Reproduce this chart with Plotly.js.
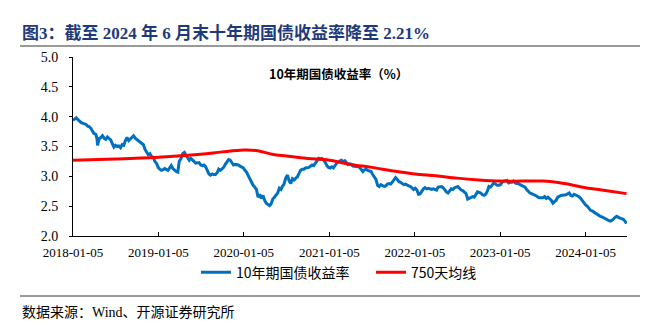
<!DOCTYPE html>
<html>
<head>
<meta charset="utf-8">
<script src="https://cdn.plot.ly/plotly-3.0.1.min.js"></script>
<style>html,body{margin:0;padding:0;background:#fff;}#chart{width:646px;height:331px;}</style>
</head>
<body>
<div id="chart"></div>
<script>
// ---- data ----
const yieldDates = [
"2018-01-05","2018-01-12","2018-01-19","2018-01-26","2018-02-02","2018-02-09","2018-02-23","2018-03-02","2018-03-09","2018-03-16","2018-03-23","2018-03-30",
"2018-04-04","2018-04-13","2018-04-18","2018-04-20","2018-04-27","2018-05-04","2018-05-11","2018-05-18","2018-05-25","2018-06-01","2018-06-08","2018-06-15","2018-06-22","2018-06-29",
"2018-07-06","2018-07-13","2018-07-20","2018-07-27","2018-08-03","2018-08-10","2018-08-17","2018-08-24","2018-08-31","2018-09-07","2018-09-14","2018-09-21","2018-09-28",
"2018-10-12","2018-10-19","2018-10-26","2018-11-02","2018-11-09","2018-11-16","2018-11-23","2018-11-30","2018-12-07","2018-12-14","2018-12-21","2018-12-28",
"2019-01-04","2019-01-11","2019-01-18","2019-01-25","2019-02-01","2019-02-15","2019-02-22","2019-03-01","2019-03-08","2019-03-15","2019-03-22","2019-03-29",
"2019-04-04","2019-04-12","2019-04-19","2019-04-26","2019-05-03","2019-05-10","2019-05-17","2019-05-24","2019-05-31","2019-06-06","2019-06-14","2019-06-21","2019-06-28",
"2019-07-05","2019-07-12","2019-07-19","2019-07-26","2019-08-02","2019-08-09","2019-08-16","2019-08-23","2019-08-30","2019-09-06","2019-09-13","2019-09-20","2019-09-27",
"2019-10-11","2019-10-18","2019-10-25","2019-11-01","2019-11-08","2019-11-15","2019-11-22","2019-11-29","2019-12-06","2019-12-13","2019-12-20","2019-12-27",
"2020-01-03","2020-01-10","2020-01-17","2020-01-23","2020-02-07","2020-02-14","2020-02-21","2020-02-28","2020-03-06","2020-03-13","2020-03-20","2020-03-27",
"2020-04-03","2020-04-10","2020-04-17","2020-04-24","2020-04-30","2020-05-08","2020-05-15","2020-05-22","2020-05-29","2020-06-05","2020-06-12","2020-06-19","2020-06-24",
"2020-07-03","2020-07-10","2020-07-17","2020-07-24","2020-07-31","2020-08-07","2020-08-14","2020-08-21","2020-08-28","2020-09-04","2020-09-11","2020-09-18","2020-09-25",
"2020-10-09","2020-10-16","2020-10-23","2020-10-30","2020-11-06","2020-11-13","2020-11-20","2020-11-27","2020-12-04","2020-12-11","2020-12-18","2020-12-25",
"2021-01-01","2021-01-08","2021-01-15","2021-01-22","2021-01-29","2021-02-05","2021-02-19","2021-02-26","2021-03-05","2021-03-12","2021-03-19","2021-03-26",
"2021-04-02","2021-04-09","2021-04-16","2021-04-23","2021-04-30","2021-05-07","2021-05-14","2021-05-21","2021-05-28","2021-06-04","2021-06-11","2021-06-18","2021-06-25",
"2021-07-02","2021-07-09","2021-07-16","2021-07-23","2021-07-30","2021-08-06","2021-08-13","2021-08-20","2021-08-27","2021-09-03","2021-09-10","2021-09-17","2021-09-24",
"2021-10-08","2021-10-15","2021-10-22","2021-10-29","2021-11-05","2021-11-12","2021-11-19","2021-11-26","2021-12-03","2021-12-10","2021-12-17","2021-12-24","2021-12-31",
"2022-01-07","2022-01-14","2022-01-21","2022-01-28","2022-02-11","2022-02-18","2022-02-25","2022-03-04","2022-03-11","2022-03-18","2022-03-25",
"2022-04-01","2022-04-08","2022-04-15","2022-04-22","2022-04-29","2022-05-06","2022-05-13","2022-05-20","2022-05-27","2022-06-02","2022-06-10","2022-06-17","2022-06-24",
"2022-07-01","2022-07-08","2022-07-15","2022-07-22","2022-07-29","2022-08-05","2022-08-12","2022-08-19","2022-08-26","2022-09-02","2022-09-09","2022-09-16","2022-09-23","2022-09-30",
"2022-10-14","2022-10-21","2022-10-28","2022-11-04","2022-11-11","2022-11-18","2022-11-25","2022-12-02","2022-12-09","2022-12-16","2022-12-23","2022-12-30",
"2023-01-06","2023-01-13","2023-01-20","2023-02-03","2023-02-10","2023-02-17","2023-02-24","2023-03-03","2023-03-10","2023-03-17","2023-03-24","2023-03-31",
"2023-04-07","2023-04-14","2023-04-21","2023-04-28","2023-05-05","2023-05-12","2023-05-19","2023-05-26","2023-06-02","2023-06-09","2023-06-16","2023-06-21","2023-06-30",
"2023-07-07","2023-07-14","2023-07-21","2023-07-28","2023-08-04","2023-08-11","2023-08-18","2023-08-25","2023-09-01","2023-09-08","2023-09-15","2023-09-22",
"2023-10-13","2023-10-20","2023-10-27","2023-11-03","2023-11-10","2023-11-17","2023-11-24","2023-12-01","2023-12-08","2023-12-15","2023-12-22","2023-12-29",
"2024-01-05","2024-01-12","2024-01-19","2024-01-26","2024-02-02","2024-02-09","2024-02-23","2024-03-01","2024-03-08","2024-03-15","2024-03-22","2024-03-29",
"2024-04-03","2024-04-12","2024-04-19","2024-04-26","2024-05-02","2024-05-10","2024-05-17","2024-05-24","2024-05-31","2024-06-07","2024-06-14","2024-06-21","2024-06-28"
];
const yieldValues = [
3.94,3.96,3.98,3.95,3.92,3.90,3.88,3.87,3.84,3.83,3.80,3.75,
3.72,3.70,3.62,3.52,3.63,3.65,3.68,3.64,3.62,3.66,3.64,3.61,3.55,3.49,
3.52,3.50,3.51,3.48,3.53,3.52,3.60,3.65,3.60,3.63,3.66,3.68,3.64,
3.60,3.58,3.56,3.53,3.45,3.40,3.36,3.38,3.33,3.32,3.25,3.22,
3.15,3.12,3.10,3.11,3.13,3.10,3.15,3.18,3.13,3.10,3.08,3.07,
3.25,3.30,3.38,3.40,3.35,3.30,3.27,3.30,3.28,3.25,3.22,3.22,3.23,
3.19,3.18,3.19,3.16,3.10,3.04,3.02,3.04,3.03,3.03,3.06,3.12,3.10,
3.15,3.20,3.25,3.28,3.27,3.23,3.19,3.20,3.20,3.19,3.17,3.15,
3.14,3.10,3.07,3.02,2.90,2.85,2.82,2.78,2.65,2.70,2.63,2.68,
2.60,2.55,2.53,2.51,2.53,2.62,2.65,2.68,2.72,2.80,2.78,2.84,2.86,
2.98,3.02,2.92,2.88,2.96,2.94,2.97,2.99,3.05,3.10,3.12,3.12,3.14,
3.15,3.17,3.19,3.18,3.22,3.28,3.30,3.29,3.30,3.27,3.24,3.18,
3.15,3.14,3.16,3.14,3.19,3.22,3.26,3.27,3.24,3.26,3.23,3.20,
3.21,3.20,3.17,3.17,3.16,3.16,3.15,3.12,3.08,3.11,3.12,3.10,3.09,
3.08,3.03,2.98,2.95,2.85,2.83,2.86,2.84,2.83,2.84,2.87,2.88,2.87,
2.94,2.98,2.95,2.91,2.90,2.88,2.86,2.87,2.85,2.84,2.83,2.80,2.78,
2.80,2.77,2.70,2.71,2.79,2.81,2.79,2.80,2.79,2.78,2.79,
2.78,2.77,2.82,2.83,2.83,2.81,2.77,2.74,2.72,2.76,2.79,2.78,2.81,
2.82,2.83,2.80,2.77,2.76,2.74,2.71,2.62,2.63,2.64,2.66,2.65,2.70,2.74,
2.72,2.69,2.68,2.70,2.75,2.83,2.82,2.86,2.89,2.87,2.85,2.85,
2.86,2.90,2.92,2.93,2.89,2.90,2.90,2.92,2.89,2.88,2.88,2.86,
2.85,2.84,2.82,2.78,2.75,2.72,2.71,2.70,2.68,2.67,2.65,2.64,2.64,
2.64,2.66,2.63,2.65,2.63,2.60,2.55,2.57,2.60,2.65,2.67,2.68,
2.69,2.71,2.72,2.68,2.67,2.70,2.69,2.67,2.66,2.63,2.59,2.56,
2.52,2.50,2.47,2.43,2.42,2.40,2.36,2.34,2.33,2.32,2.30,2.29,
2.28,2.26,2.25,2.26,2.29,2.31,2.33,2.31,2.30,2.29,2.28,2.25,2.21
];
const maDates = ["2018-01-05","2018-07-05","2019-01-05","2019-07-05","2019-10-05","2020-01-05","2020-03-05","2020-05-05","2020-07-05","2020-10-05",
"2021-01-05","2021-04-05","2021-07-05","2021-10-05","2022-01-05","2022-04-05","2022-07-05","2022-10-05","2023-01-05","2023-04-05","2023-07-05","2023-10-05",
"2024-01-05","2024-04-05","2024-06-28"];
const maValues = [3.27,3.29,3.32,3.37,3.41,3.44,3.43,3.37,3.34,3.30,
3.27,3.20,3.15,3.09,3.04,3.01,2.97,2.94,2.92,2.92,2.92,2.88,
2.81,2.76,2.71];
const tickDates = ["2018-01-05","2019-01-05","2020-01-05","2021-01-05","2022-01-05","2023-01-05","2024-01-05"];
const seriesNames = ["10年期国债收益率","750天均线"];
const chartTitle = "图3：截至 2024 年 6 月末十年期国债收益率降至 2.21%";
const innerTitle = "10年期国债收益率（%）";
const sourceText = "数据来源：Wind、开源证券研究所";

const serif = "'Liberation Serif','Times New Roman','Noto Sans CJK SC',serif";
const cjk = "'Noto Sans CJK SC','Noto Sans',sans-serif";

const traces = [
  {x: yieldDates, y: yieldValues, name: seriesNames[0], type: "scatter", mode: "lines",
   line: {color: "#0070C0", width: 3}},
  {x: maDates, y: maValues, name: seriesNames[1], type: "scatter", mode: "lines",
   line: {color: "#FF0000", width: 3, shape: "spline"}}
];

const layout = {
  width: 646, height: 331,
  margin: {l: 73, r: 19, t: 57, b: 95},
  paper_bgcolor: "#fff", plot_bgcolor: "#fff",
  showlegend: true,
  legend: {orientation: "h", x: 0.222, y: -0.205, xanchor: "left", yanchor: "middle",
    font: {family: cjk, size: 14, color: "#000"}, itemwidth: 30, tracegroupgap: 0,
    entrywidth: 130, entrywidthmode: "pixels",
    bgcolor: "rgba(0,0,0,0)"},
  xaxis: {type: "date", range: ["2018-01-05", "2024-06-30"],
    tickvals: tickDates, ticktext: tickDates,
    ticks: "inside", ticklen: 4, tickcolor: "#000", tickwidth: 1,
    ticklabelstandoff: 4,
    showline: true, linecolor: "#000", linewidth: 1, showgrid: false, zeroline: false,
    tickfont: {family: serif, size: 13, color: "#000"}},
  yaxis: {range: [2, 5], dtick: 0.5, tick0: 2, tickformat: ".1f",
    ticks: "outside", ticklen: 3, tickcolor: "#000", tickwidth: 1,
    showline: true, linecolor: "#000", linewidth: 1, showgrid: false, zeroline: false,
    ticklabelstandoff: 8,
    tickfont: {family: serif, size: 14, color: "#000"}},
  annotations: [
    {text: "<b>" + chartTitle + "</b>", xref: "paper", yref: "paper", x: -0.0957, y: 1.134,
     xanchor: "left", yanchor: "middle", showarrow: false,
     font: {family: serif, size: 17, color: "#1F3A7A"}},
    {text: "<b>" + innerTitle + "</b>", xref: "paper", yref: "paper", x: 0.479, y: 0.9106,
     xanchor: "center", yanchor: "middle", showarrow: false,
     font: {family: cjk, size: 12.5, color: "#000"}},
    {text: sourceText, xref: "paper", yref: "paper", x: -0.0957, y: -0.4246,
     xanchor: "left", yanchor: "middle", showarrow: false,
     font: {family: serif, size: 14, color: "#000"}}
  ],
  shapes: [
    {type: "line", xref: "paper", yref: "paper", x0: -0.0957, x1: 1.0235, y0: 1.0615, y1: 1.0615,
     line: {color: "#777", width: 1.5}},
    {type: "line", xref: "paper", yref: "paper", x0: -0.0957, x1: 1.0235, y0: -0.335, y1: -0.335,
     line: {color: "#777", width: 1.5}}
  ]
};

Plotly.newPlot("chart", traces, layout, {displayModeBar: false, staticPlot: true});
</script>
</body>
</html>
